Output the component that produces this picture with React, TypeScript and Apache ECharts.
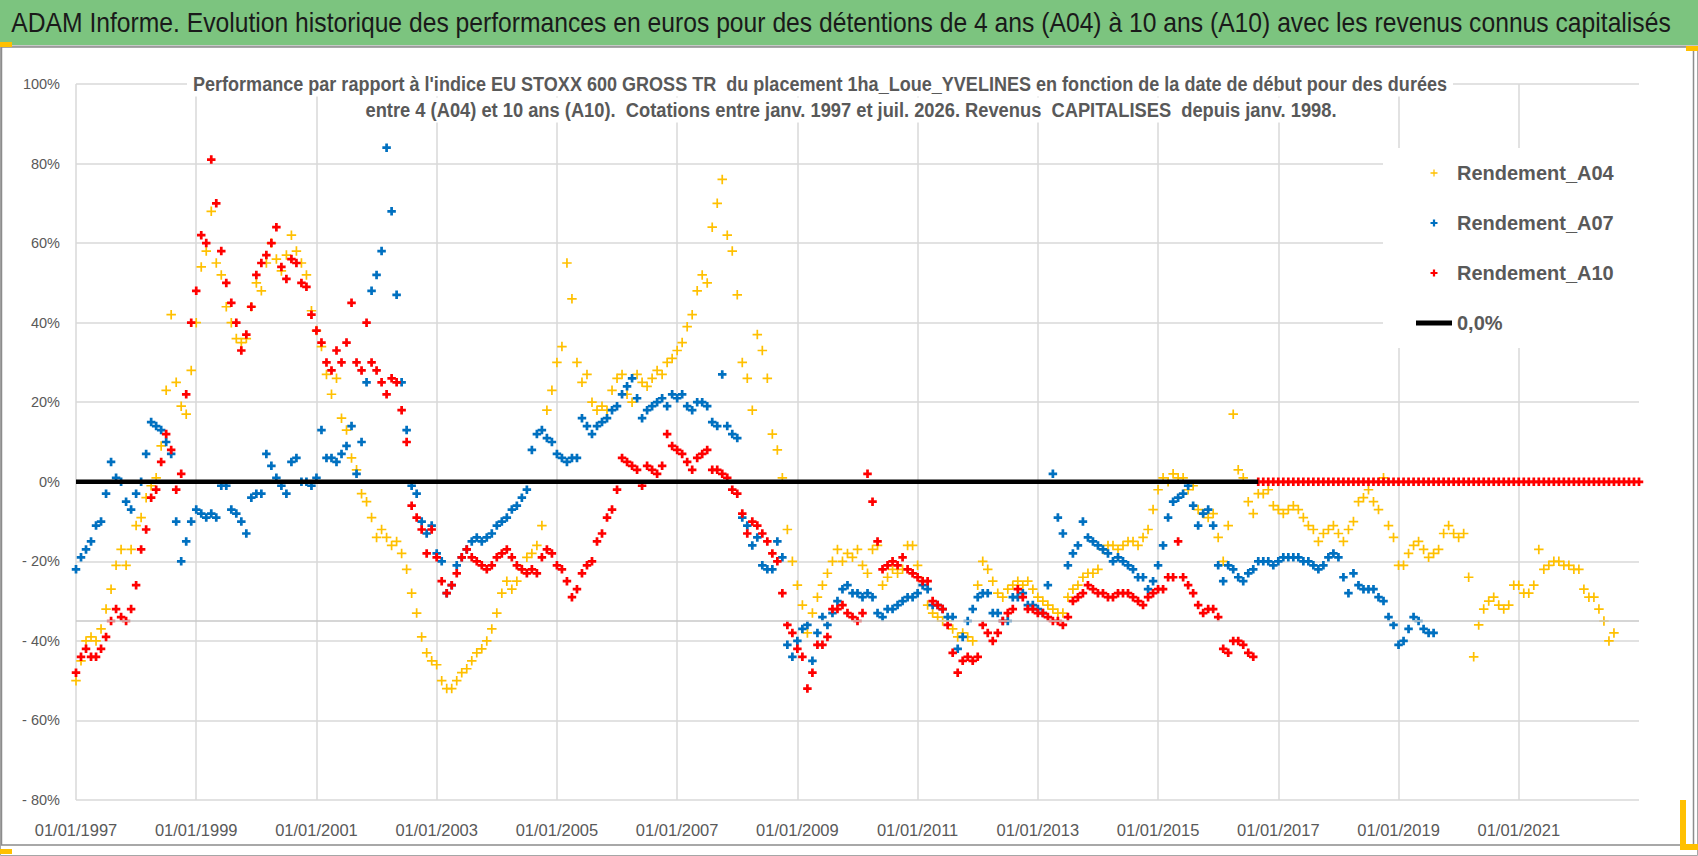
import React, { useEffect, useRef } from 'react';
import * as echarts from 'echarts';

// --- données : une valeur par mois, premier point au 01/01/1997 ---
const premiereAnnee = 1997;
const derniereAnnee = 2023;
const pasAnnees = 2;
const yMin = -80;
const yMax = 100;
const yPas = 20;
const ligneGrise = -35;

// Rendement_A04 (en %), janv. 1997 -> août 2022
const rendementA04 = [
  -50, -45, -40, -39, -40, -37, -32, -27, -21, -17, -21, -17, // 1997
  -11, -9, -4, -1, 1, 9, 23, 42, 25, 19, 17, 28, // 1998
  40, 54, 58, 68, 55, 52, 44, 40, 36, 35, 36, 44, // 1999
  50, 48, 55, 60, 56, 53, 57, 62, 58, 55, 52, 43, // 2000
  38, 34, 27, 22, 26, 16, 13, 6, 3, -3, -5, -9, // 2001
  -14, -12, -14, -16, -15, -18, -22, -28, -33, -39, -43, -45, // 2002
  -46, -50, -52, -52, -50, -48, -47, -45, -43, -42, -40, -37, // 2003
  -33, -28, -25, -27, -25, -22, -19, -18, -16, -11, 18, 23, // 2004
  30, 34, 55, 46, 30, 25, 27, 20, 18, 19, 18, 23, // 2005
  26, 27, 22, 20, 27, 25, 24, 26, 28, 27, 30, 31, // 2006
  33, 35, 39, 42, 48, 52, 50, 64, 70, 76, 62, 58, // 2007
  47, 30, 26, 18, 37, 33, 26, 12, 8, 1, -12, -20, // 2008
  -26, -31, -38, -33, -29, -26, -23, -20, -17, -20, -18, -19, // 2009
  -17, -21, -23, -17, -16, -26, -24, -22, -23, -22, -16, -16, // 2010
  -21, -25, -31, -33, -34, -35, -35, -37, -39, -38, -39, -40, // 2011
  -26, -20, -22, -25, -28, -29, -27, -26, -25, -26, -25, -27, // 2012
  -29, -30, -31, -32, -33, -33, -29, -27, -26, -24, -23, -23, // 2013
  -22, -17, -16, -16, -17, -16, -15, -15, -16, -14, -12, -7, // 2014
  -2, 1, 0, 2, 1, 1, -2, -1, -7, -8, -9, -8, // 2015
  -14, -20, -11, 17, 3, 1, -5, -8, -3, -3, -2, -6, // 2016
  -7, -8, -7, -6, -7, -9, -11, -12, -15, -13, -12, -11, // 2017
  -13, -15, -12, -10, -5, -4, -2, -5, -7, 1, -11, -14, // 2018
  -21, -21, -18, -16, -15, -17, -19, -18, -17, -13, -11, -13, // 2019
  -14, -13, -24, -44, -36, -32, -30, -29, -31, -32, -31, -26, // 2020
  -26, -28, -28, -26, -17, -22, -21, -20, -20, -21, -21, -22, // 2021
  -22, -27, -29, -29, -32, -35, -40, -38, // 2022
];

// Rendement_A07 (en %), janv. 1997 -> août 2019
const rendementA07 = [
  -22, -19, -17, -15, -11, -10, -3, 5, 1, 0, -5, -7, // 1997
  -3, 0, 7, 15, 14, 13, 10, 7, -10, -20, -15, -10, // 1998
  -7, -8, -9, -8, -9, -1, -1, -7, -8, -10, -13, -4, // 1999
  -3, -3, 7, 4, 1, -1, -3, 5, 6, 0, 0, -1, // 2000
  1, 13, 6, 6, 5, 7, 9, 14, 2, 10, 25, 48, // 2001
  52, 58, 84, 68, 47, 25, 13, -1, -3, -10, -13, -11, // 2002
  -18, -20, -28, -26, -21, -19, -17, -15, -14, -15, -14, -13, // 2003
  -11, -10, -9, -7, -6, -4, -2, 8, 12, 13, 11, 10, // 2004
  7, 6, 5, 6, 6, 16, 14, 12, 14, 15, 16, 18, // 2005
  19, 22, 24, 26, 21, 16, 18, 19, 20, 21, 19, 22, // 2006
  21, 22, 19, 18, 20, 20, 19, 15, 14, 27, 14, 12, // 2007
  11, -9, -11, -16, -14, -21, -22, -22, -15, -19, -41, -44, // 2008
  -40, -37, -36, -45, -38, -34, -36, -33, -30, -27, -26, -28, // 2009
  -28, -29, -28, -29, -33, -34, -32, -32, -31, -30, -29, -29, // 2010
  -28, -26, -27, -31, -31, -32, -34, -34, -42, -39, -35, -32, // 2011
  -29, -28, -28, -33, -33, -35, -35, -29, -29, -28, -31, -31, // 2012
  -32, -33, -26, 2, -9, -13, -21, -18, -16, -10, -14, -15, // 2013
  -16, -17, -18, -20, -19, -20, -21, -22, -24, -24, -27, -25, // 2014
  -21, -16, -9, -5, -4, -3, -1, -6, -11, -8, -7, -11, // 2015
  -21, -25, -21, -22, -24, -25, -23, -22, -20, -20, -20, -21, // 2016
  -20, -19, -19, -19, -19, -20, -20, -21, -22, -21, -19, -18, // 2017
  -19, -24, -28, -23, -26, -27, -27, -27, -29, -30, -34, -36, // 2018
  -41, -40, -37, -34, -35, -37, -38, -38, // 2019
];

// Rendement_A10 (en %), janv. 1997 -> août 2016
const rendementA10 = [
  -48, -44, -42, -44, -44, -42, -39, -35, -32, -34, -35, -32, // 1997
  -26, -17, -12, -4, -2, 5, 12, 8, -2, 2, 22, 40, // 1998
  48, 62, 60, 81, 70, 58, 50, 45, 40, 33, 37, 44, // 1999
  52, 55, 57, 60, 64, 54, 51, 56, 55, 50, 49, 42, // 2000
  38, 35, 30, 28, 33, 30, 35, 45, 30, 28, 40, 30, // 2001
  28, 25, 22, 26, 25, 18, 10, -6, -9, -12, -18, -12, // 2002
  -19, -25, -28, -26, -23, -19, -17, -19, -20, -21, -22, -21, // 2003
  -19, -18, -17, -19, -21, -22, -23, -22, -23, -19, -17, -18, // 2004
  -21, -22, -25, -29, -27, -23, -21, -20, -15, -13, -9, -7, // 2005
  -2, 6, 5, 4, 3, -1, 4, 3, 2, 4, 12, 9, // 2006
  8, 7, 5, 3, 6, 7, 8, 3, 3, 2, 1, -2, // 2007
  -3, -8, -13, -10, -11, -13, -15, -18, -20, -28, -36, -38, // 2008
  -42, -44, -52, -48, -41, -41, -39, -32, -32, -31, -33, -34, // 2009
  -35, -33, 2, -5, -15, -22, -21, -20, -21, -19, -22, -23, // 2010
  -24, -25, -25, -30, -31, -32, -36, -43, -48, -45, -44, -45, // 2011
  -44, -36, -38, -40, -38, -35, -33, -32, -27, -29, -32, -32, // 2012
  -33, -33, -34, -35, -35, -36, -34, -30, -29, -28, -26, -27, // 2013
  -28, -28, -29, -29, -28, -28, -28, -29, -30, -31, -29, -28, // 2014
  -27, -27, -24, -24, -15, -24, -26, -28, -31, -33, -32, -32, // 2015
  -34, -42, -43, -40, -40, -41, -43, -44, // 2016
];

// Rendement_A10 à 0 % (dates sans durée de 10 ans connue), sept. 2016 -> janv. 2023
const rendementA10Nul = [
  0, 0, 0, 0, // 2016
  0, 0, 0, 0, 0, 0, 0, 0, 0, 0, 0, 0, // 2017
  0, 0, 0, 0, 0, 0, 0, 0, 0, 0, 0, 0, // 2018
  0, 0, 0, 0, 0, 0, 0, 0, 0, 0, 0, 0, // 2019
  0, 0, 0, 0, 0, 0, 0, 0, 0, 0, 0, 0, // 2020
  0, 0, 0, 0, 0, 0, 0, 0, 0, 0, 0, 0, // 2021
  0, 0, 0, 0, 0, 0, 0, 0, 0, 0, 0, 0, // 2022
  0, // 2023
];

const nomsSeries = ['Rendement_A04', 'Rendement_A07', 'Rendement_A10', '0,0%'];
const couleurs = ['#FFC000', '#0070C0', '#FF0000', '#000000'];

const titre = 'ADAM Informe. Evolution historique des performances en euros pour des détentions de 4 ans (A04) à 10 ans (A10) avec les revenus connus capitalisés';
const sousTitre1 = "Performance par rapport à l'indice EU STOXX 600 GROSS TR  du placement 1ha_Loue_YVELINES en fonction de la date de début pour des durées";
const sousTitre2 = 'entre 4 (A04) et 10 ans (A10).  Cotations entre janv. 1997 et juil. 2026. Revenus  CAPITALISES  depuis janv. 1998.';

const police = "'Liberation Sans', Arial, sans-serif";
const grisTexte = '#595959';
const grisGrille = '#D9D9D9';

const plusFin = 'path://M4.1,0H5.9V4.1H10V5.9H5.9V10H4.1V5.9H0V4.1H4.1Z';
const plusGras = 'path://M3.4,0H6.6V3.4H10V6.6H6.6V10H3.4V6.6H0V3.4H3.4Z';
const trait = 'path://M0,0H36V5H0Z';

// x = année décimale (un point par mois)
const enPoints = (valeurs: number[], decalage = 0) =>
  valeurs.map((v, i) => [premiereAnnee + (decalage + i) / 12, v]);

// le graphique d'origine est en police étroite : on resserre les textes pour garder leur largeur
const largeurTexte = (texte: string, font: string) => {
  const ctx = document.createElement('canvas').getContext('2d');
  if (!ctx) return 1;
  ctx.font = font;
  return ctx.measureText(texte).width || 1;
};

const App: React.FC = () => {
  const chartRef = useRef<HTMLDivElement>(null);

  useEffect(() => {
    document.body.style.margin = '0';
    if (!chartRef.current) return;
    const chart = echarts.init(chartRef.current, undefined, { renderer: 'svg' });

    const finA10 = premiereAnnee + rendementA10.length / 12;
    const echelleTitre = 1660 / largeurTexte(titre, "27px 'Liberation Sans'");
    const echelleSous1 = 1255 / largeurTexte(sousTitre1, "bold 20.5px 'Liberation Sans'");
    const echelleSous2 = 972 / largeurTexte(sousTitre2, "bold 20.5px 'Liberation Sans'");

    chart.setOption({
      animation: false,
      backgroundColor: '#ffffff',
      grid: { left: 76, right: 59, top: 84, bottom: 56, containLabel: false },
      xAxis: {
        type: 'value',
        min: premiereAnnee,
        max: derniereAnnee,
        interval: pasAnnees,
        axisLine: { show: false },
        axisTick: { show: false },
        axisLabel: {
          color: grisTexte,
          fontFamily: police,
          fontSize: 16.5,
          margin: 21,
          formatter: (v: number) => (v >= derniereAnnee ? '' : `01/01/${v}`),
        },
        splitLine: { show: true, showMaxLine: false, lineStyle: { color: grisGrille, width: 1.5 } },
      },
      yAxis: {
        type: 'value',
        min: yMin,
        max: yMax,
        interval: yPas,
        axisLine: { show: false },
        axisTick: { show: false },
        axisLabel: {
          color: grisTexte,
          fontFamily: police,
          fontSize: 14.5,
          margin: 16,
          formatter: (v: number) => (v < 0 ? `- ${-v}%` : `${v}%`),
        },
        splitLine: { show: true, lineStyle: { color: grisGrille, width: 1.5 } },
      },
      legend: {
        orient: 'vertical',
        left: 1383,
        top: 148,
        padding: [12, 30, 12, 33],
        backgroundColor: '#ffffff',
        itemWidth: 36,
        itemHeight: 7,
        itemGap: 24,
        selectedMode: false,
        textStyle: { color: grisTexte, fontFamily: police, fontSize: 20, fontWeight: 'bold', lineHeight: 26 },
        data: [
          { name: nomsSeries[0], icon: plusFin },
          { name: nomsSeries[1], icon: plusGras },
          { name: nomsSeries[2], icon: plusGras },
          { name: nomsSeries[3], icon: trait },
        ],
      },
      graphic: [
        { type: 'rect', z: 0, shape: { x: 0.5, y: 0.5, width: 1697, height: 855 }, style: { fill: '#ffffff', stroke: '#A6A6A6', lineWidth: 1 } },
        { type: 'rect', z: 1, shape: { x: 0, y: 0, width: 1698, height: 45 }, style: { fill: '#7CC47F' } },
        { type: 'rect', z: 1, shape: { x: 0, y: 45, width: 1698, height: 2 }, style: { fill: '#C8C8C8' } },
        { type: 'rect', z: 1, shape: { x: 1.5, y: 47, width: 1692, height: 798 }, style: { fill: 'none', stroke: '#8C8C8C', lineWidth: 1.5 } },
        { type: 'rect', z: 60, shape: { x: 0, y: 42, width: 12, height: 5 }, style: { fill: '#FFC000' } },
        { type: 'rect', z: 60, shape: { x: 1686, y: 46, width: 12, height: 5 }, style: { fill: '#FFC000' } },
        { type: 'rect', z: 60, shape: { x: 0, y: 849, width: 12, height: 5 }, style: { fill: '#FFC000' } },
        { type: 'rect', z: 60, shape: { x: 1680, y: 800, width: 6, height: 50 }, style: { fill: '#FFC000' } },
        { type: 'rect', z: 60, shape: { x: 1680, y: 844, width: 18, height: 6 }, style: { fill: '#FFC000' } },
        {
          type: 'text', z: 60, x: 841, y: 23, scaleX: echelleTitre,
          style: { text: titre, fill: '#1A1A1A', fontFamily: police, fontSize: 27, textAlign: 'center', textVerticalAlign: 'middle' },
        },
        {
          type: 'text', z: 50, x: 820, y: 84, scaleX: echelleSous1,
          style: {
            text: sousTitre1, fill: grisTexte, fontFamily: police, fontSize: 20.5, fontWeight: 'bold',
            textAlign: 'center', textVerticalAlign: 'middle', backgroundColor: '#ffffff', padding: [2, 6],
          },
        },
        {
          type: 'text', z: 50, x: 851, y: 110, scaleX: echelleSous2,
          style: {
            text: sousTitre2, fill: grisTexte, fontFamily: police, fontSize: 20.5, fontWeight: 'bold',
            textAlign: 'center', textVerticalAlign: 'middle', backgroundColor: '#ffffff', padding: [2, 6],
          },
        },
      ],
      series: [
        {
          name: nomsSeries[3],
          type: 'line',
          data: [[premiereAnnee, 0], [finA10, 0]],
          symbol: 'none',
          silent: true,
          lineStyle: { color: couleurs[3], width: 4.5 },
          itemStyle: { color: couleurs[3] },
          markLine: {
            silent: true,
            symbol: 'none',
            label: { show: false },
            lineStyle: { color: '#C8C8C8', width: 1.5, type: 'solid' },
            data: [{ yAxis: ligneGrise }],
          },
        },
        {
          name: nomsSeries[0],
          type: 'scatter',
          data: enPoints(rendementA04),
          symbol: plusFin,
          symbolSize: 9.5,
          itemStyle: { color: couleurs[0], opacity: 1 },
        },
        {
          name: nomsSeries[1],
          type: 'scatter',
          data: enPoints(rendementA07),
          symbol: plusGras,
          symbolSize: 8.5,
          itemStyle: { color: couleurs[1], opacity: 1 },
        },
        {
          name: nomsSeries[2],
          type: 'scatter',
          data: enPoints(rendementA10).concat(enPoints(rendementA10Nul, rendementA10.length)),
          symbol: plusGras,
          symbolSize: 8.5,
          itemStyle: { color: couleurs[2], opacity: 1 },
        },
      ],
    });

    return () => chart.dispose();
  }, []);

  return <div ref={chartRef} style={{ width: 1698, height: 856 }} />;
};

export default App;
